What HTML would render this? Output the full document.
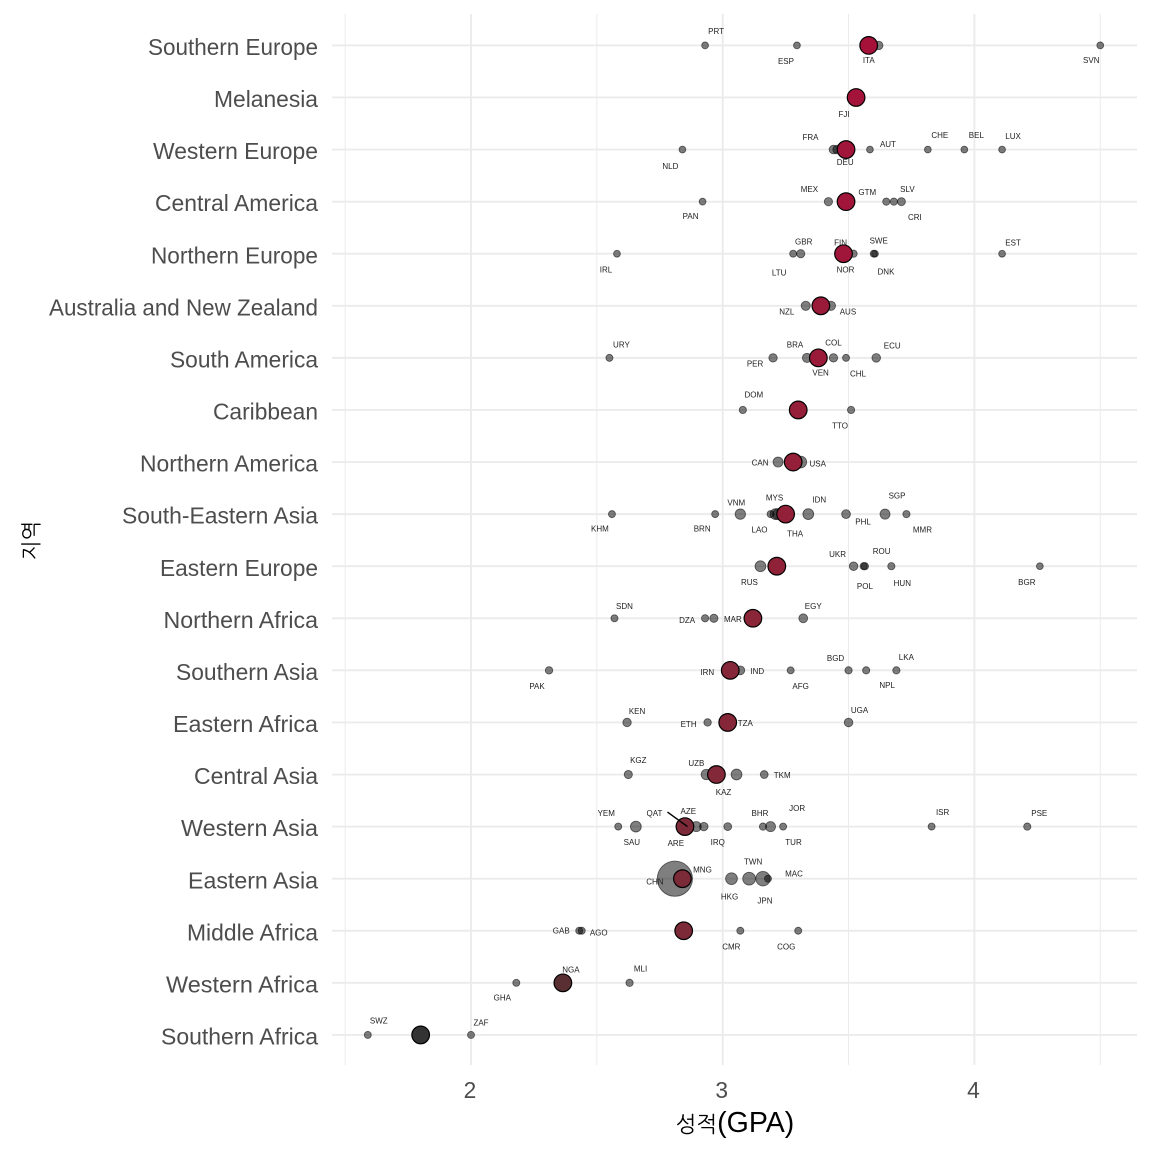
<!DOCTYPE html>
<html lang="ko">
<head>
<meta charset="utf-8">
<title>GPA by region</title>
<style>
html,body{margin:0;padding:0;background:#fff;width:1152px;height:1152px;overflow:hidden}
svg{display:block}
text{font-family:"Liberation Sans","Noto Sans CJK KR",sans-serif}
</style>
</head>
<body>
<svg id="chart" xmlns="http://www.w3.org/2000/svg" width="1152" height="1152" viewBox="0 0 1152 1152">
  <rect x="0" y="0" width="1152" height="1152" fill="#ffffff"/>
  <g id="grid"></g>
  <g id="country-points"></g>
  <g id="region-means"></g>
  <g id="leaders"></g>
  <g id="country-labels"></g>
  <g id="y-axis"></g>
  <g id="x-axis"></g>
  <text x="735" y="1132" text-anchor="middle" font-size="28.5" fill="#000"><tspan font-size="22" style="font-family:'NanumGothic','Noto Sans CJK KR',sans-serif">성적</tspan><tspan>(GPA)</tspan></text>
  <text transform="translate(38.5,540.5) rotate(-90)" text-anchor="middle" font-size="21" fill="#000" style="font-family:'NanumGothic','Noto Sans CJK KR',sans-serif">지역</text>
</svg>
<script>
const regions = ["Southern Europe","Melanesia","Western Europe","Central America","Northern Europe","Australia and New Zealand","South America","Caribbean","Northern America","South-Eastern Asia","Eastern Europe","Northern Africa","Southern Asia","Eastern Africa","Central Asia","Western Asia","Eastern Asia","Middle Africa","Western Africa","Southern Africa"];
const regionMeans = [3.58,3.53,3.49,3.49,3.48,3.39,3.38,3.30,3.28,3.25,3.215,3.12,3.03,3.02,2.975,2.85,2.84,2.845,2.365,1.80];
const xMajorTicks = [2,3,4];
const xMinorTicks = [1.5,2.5,3.5,4.5];

const countryCodes = [
  "PRT","ESP","ITA","SVN",
  "FJI",
  "NLD","FRA","DEU","AUT","CHE","BEL","LUX",
  "PAN","MEX","GTM","CRI","SLV",
  "IRL","LTU","GBR","FIN","NOR","SWE","DNK","EST",
  "NZL","AUS",
  "URY","PER","BRA","COL","CHL","ECU","VEN",
  "DOM","TTO",
  "CAN","USA",
  "KHM","BRN","VNM","LAO","MYS","THA","IDN","PHL","SGP","MMR",
  "RUS","UKR","POL","ROU","HUN","BGR",
  "SDN","DZA","MAR","EGY",
  "PAK","IRN","IND","AFG","BGD","NPL","LKA",
  "KEN","ETH","TZA","UGA",
  "KGZ","UZB","KAZ","TKM",
  "YEM","SAU","QAT","AZE","ARE","IRQ","BHR","TUR","JOR","ISR","PSE",
  "CHN","MNG","HKG","TWN","JPN","MAC",
  "GAB","AGO","CMR","COG",
  "GHA","NGA","MLI",
  "SWZ","ZAF"
];
const countryRegion = [
  0,0,0,0,
  1,
  2,2,2,2,2,2,2,
  3,3,3,3,3,
  4,4,4,4,4,4,4,4,
  5,5,
  6,6,6,6,6,6,6,
  7,7,
  8,8,
  9,9,9,9,9,9,9,9,9,9,
  10,10,10,10,10,10,
  11,11,11,11,
  12,12,12,12,12,12,12,
  13,13,13,13,
  14,14,14,14,
  15,15,15,15,15,15,15,15,15,15,15,
  16,16,16,16,16,16,
  17,17,17,17,
  18,18,18,
  19,19
];
const countryGpa = [
  2.93,3.295,3.62,4.50,
  3.53,
  2.84,3.44,3.455,3.585,3.815,3.96,4.11,
  2.92,3.42,3.65,3.68,3.71,
  2.58,3.28,3.31,3.52,3.48,3.60,3.605,4.11,
  3.33,3.43,
  2.55,3.20,3.335,3.44,3.49,3.61,3.385,
  3.08,3.51,
  3.22,3.31,
  2.56,2.97,3.07,3.19,3.21,3.22,3.34,3.49,3.645,3.73,
  3.15,3.52,3.565,3.56,3.67,4.26,
  2.57,2.93,2.965,3.32,
  2.31,3.03,3.07,3.27,3.50,3.57,3.69,
  2.62,2.94,3.03,3.50,
  2.625,2.935,3.055,3.165,
  2.585,2.655,2.86,2.895,2.925,3.02,3.16,3.19,3.24,3.83,4.21,
  2.81,2.86,3.035,3.105,3.16,3.18,
  2.43,2.44,3.07,3.30,
  2.18,2.365,2.63,
  1.59,2.00
];
const countryWeight = [
  0,0,8,0,
  0,
  0,9,10,0,0,0,0,
  0,7,2,2,6,
  0,1,7,2,0,1,0,0,
  12,12,
  1,8,12,8,1,9,1,
  2,2,
  16,25,
  1,1,18,1,20,20,20,10,16,2,
  20,9,2,2,2,0,
  1,2,7,10,
  3,3,10,1,2,2,2,
  8,3,2,9,
  7,18,20,5,
  1,20,1,16,8,5,2,16,1,1,2,
  142,1,25,30,38,1,
  1,1,1,1,
  1,1,2,
  1,1
];

/* Label placement (repel offsets from each point) and rendered text widths: layout, not data. */
const labelOffsets = {
  PRT:[11,-14],ESP:[-11,16],ITA:[-10,15],SVN:[-9,15],FJI:[-12,17],
  NLD:[-12,17],FRA:[-23,-12],DEU:[8,13],AUT:[18,-5],CHE:[12,-14],BEL:[12,-14],LUX:[11,-13],
  PAN:[-12,15],MEX:[-19,-12],GTM:[-19,-9],CRI:[21,16],SLV:[6,-12],
  IRL:[-11,16],LTU:[-14,19],GBR:[3,-12],FIN:[-13,-11],NOR:[2,16],SWE:[5,-13],DNK:[11,18],EST:[11,-11],
  NZL:[-19,6],AUS:[17,6],
  URY:[12,-13],PER:[-18,6],BRA:[-12,-13],COL:[0,-15],CHL:[12,16],ECU:[16,-12],VEN:[1,15],
  DOM:[11,-15],TTO:[-11,16],CAN:[-18,1],USA:[17,2],
  KHM:[-12,15],BRN:[-13,15],VNM:[-4,-11],LAO:[-11,16],MYS:[-1,-16],THA:[17,20],IDN:[11,-14],PHL:[17,8],SGP:[12,-18],MMR:[16,16],
  RUS:[-11,16],UKR:[-16,-12],POL:[0,20],ROU:[18,-15],HUN:[11,17],BGR:[-13,16],
  SDN:[10,-12],DZA:[-18,2],MAR:[19,1],EGY:[10,-12],
  PAK:[-12,16],IRN:[-23,2],IND:[17,1],AFG:[10,16],BGD:[-13,-12],NPL:[21,15],LKA:[10,-13],
  KEN:[10,-11],ETH:[-19,2],TZA:[15,1],UGA:[11,-12],
  KGZ:[10,-14],UZB:[-10,-11],KAZ:[-13,18],TKM:[18,1],
  YEM:[-12,-13],SAU:[-4,16],QAT:[-33,-13],AZE:[-8,-15],ARE:[-28,17],IRQ:[-10,16],BHR:[-3,-13],TUR:[23,16],JOR:[14,-18],ISR:[11,-14],PSE:[12,-13],
  CHN:[-20,3],MNG:[15,-9],HKG:[-2,18],TWN:[4,-17],JPN:[2,22],MAC:[26,-5],
  GAB:[-18,0],AGO:[17,2],CMR:[-9,16],COG:[-12,16],
  GHA:[-14,15],NGA:[8,-13],MLI:[11,-14],SWZ:[11,-14],ZAF:[10,-12]
};
const leaderOffsets = {QAT:[-20,-14.5]};
const regionLabelWidths = {
  "Southern Europe":170,"Melanesia":104,"Western Europe":165,"Central America":163,"Northern Europe":167,
  "Australia and New Zealand":269,"South America":148,"Caribbean":105,"Northern America":178,"South-Eastern Asia":196,
  "Eastern Europe":158,"Northern Africa":154.5,"Southern Asia":142,"Eastern Africa":145,"Central Asia":124,
  "Western Asia":137,"Eastern Asia":130,"Middle Africa":131,"Western Africa":152,"Southern Africa":157
};

const NS = "http://www.w3.org/2000/svg";
const xScale = v => 471 + (v - 2) * 251.7;
const yScale = i => 45.4 + i * 52.08;
const rScale = w => 3.4 + w * 0.1;
const colorScale = v => {
  const stops = [[1.8,51,51,51],[2.365,90,47,51],[2.85,124,42,56],[3.12,138,38,56],[3.58,166,17,58]];
  const x = Math.max(1.8, Math.min(3.58, v));
  let k = 0;
  while (k < stops.length - 2 && x > stops[k + 1][0]) k++;
  const a = stops[k], b = stops[k + 1], t = (x - a[0]) / (b[0] - a[0]);
  const mix = j => Math.round(a[j] + (b[j] - a[j]) * t);
  return "rgb(" + mix(1) + "," + mix(2) + "," + mix(3) + ")";
};
function make(tag, attrs, parent) {
  const el = document.createElementNS(NS, tag);
  for (const k in attrs) el.setAttribute(k, attrs[k]);
  parent.appendChild(el);
  return el;
}

const grid = document.getElementById("grid");
xMinorTicks.forEach(t => {
  const line = make("line", {x1: xScale(t), x2: xScale(t), y1: 14, y2: 1065, stroke: "#ebebeb", "stroke-width": 1}, grid);
  
  
});
xMajorTicks.forEach(t => {
  const line = make("line", {x1: xScale(t), x2: xScale(t), y1: 14, y2: 1065, stroke: "#ebebeb", "stroke-width": 1.9}, grid);
  
  
});
regions.forEach((r, i) => {
  const line = make("line", {x1: 332, x2: 1137, y1: yScale(i), y2: yScale(i), stroke: "#ebebeb", "stroke-width": 1.9}, grid);
  
  
});

const yAxis = document.getElementById("y-axis");
regions.forEach((r, i) => {
  const t = make("text", {x: 318, y: yScale(i) + 9.6, "text-anchor": "end", "font-size": 22.75, fill: "#4d4d4d", textLength: regionLabelWidths[r], lengthAdjust: "spacingAndGlyphs"}, yAxis);
  t.textContent = r;
  
  
});

const xAxis = document.getElementById("x-axis");
xMajorTicks.forEach(v => {
  const t = make("text", {x: xScale(v) - 1, y: 1098, "text-anchor": "middle", "font-size": 22.75, fill: "#4d4d4d"}, xAxis);
  t.textContent = String(v);
  
  
});

const pointsG = document.getElementById("country-points");
const labelsG = document.getElementById("country-labels");
const leadersG = document.getElementById("leaders");
countryCodes.forEach((code, i) => {
  const cx = xScale(countryGpa[i]);
  const cy = yScale(countryRegion[i]);
  const c = make("circle", {cx: cx, cy: cy, r: rScale(countryWeight[i]), fill: "#000", "fill-opacity": 0.5, stroke: "#000", "stroke-opacity": 0.55, "stroke-width": 0.9}, pointsG);
  
  
  const off = labelOffsets[code] || [0, -12];
  const t = make("text", {x: cx + off[0], y: cy + off[1] + 2.6, "text-anchor": "middle", "font-size": 8, fill: "#222"}, labelsG);
  t.textContent = code;
  
  
  if (leaderOffsets[code]) {
    const l = make("line", {x1: cx + leaderOffsets[code][0], y1: cy + leaderOffsets[code][1], x2: cx, y2: cy, stroke: "#000", "stroke-width": 1.4}, leadersG);
    
    
  }
});

const meansG = document.getElementById("region-means");
regionMeans.forEach((m, i) => {
  const c = make("circle", {cx: xScale(m), cy: yScale(i), r: 8.8, fill: colorScale(m), stroke: "#000", "stroke-width": 1.2}, meansG);
  
  
});
</script>
</body>
</html>
